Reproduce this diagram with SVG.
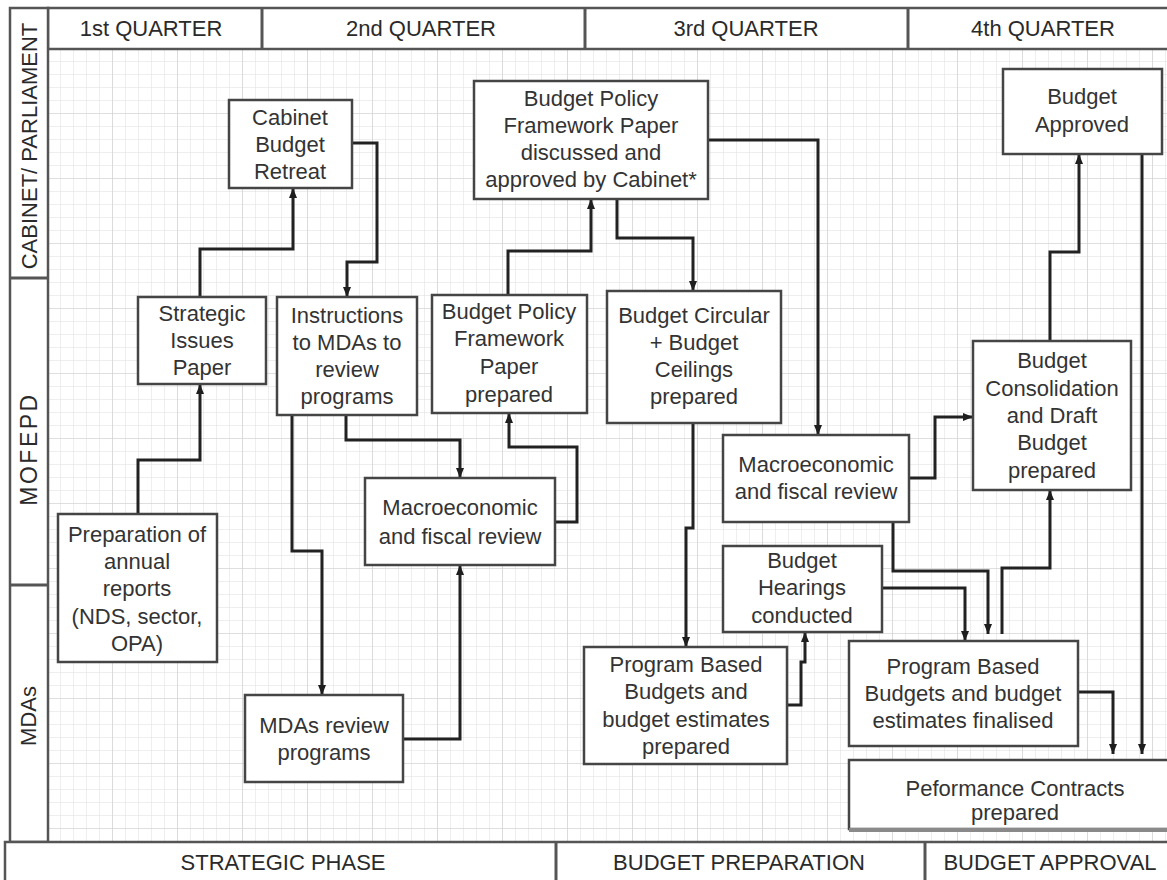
<svg xmlns="http://www.w3.org/2000/svg" width="1167" height="880" viewBox="0 0 1167 880">
<defs>
<pattern id="grid" x="48" y="49" width="13" height="13" patternUnits="userSpaceOnUse">
<path d="M13,0 V13 M0,13 H13" fill="none" stroke="#dcdcdc" stroke-width="1"/>
</pattern>
<pattern id="gridMajor" x="48" y="49" width="65" height="65" patternUnits="userSpaceOnUse">
<path d="M65,0 V65 M0,65 H65" fill="none" stroke="#cfcfcf" stroke-width="1.2"/>
</pattern>
<marker id="arr" viewBox="0 0 10 8" refX="10" refY="4" markerWidth="10" markerHeight="8" markerUnits="userSpaceOnUse" orient="auto">
<path d="M0,0 L10,4 L0,8 z" fill="#1e1e1e"/>
</marker>
</defs>
<style>
.box{fill:#fff;stroke:#454545;stroke-width:2.5}
.t{font-family:"Liberation Sans",Arial,sans-serif;font-size:22px;fill:#333;text-anchor:middle}
.hd{font-family:"Liberation Sans",Arial,sans-serif;font-size:22px;fill:#2a2a2a;text-anchor:middle}
.frame{fill:#fff;stroke:#555;stroke-width:2.5}
.div{stroke:#555;stroke-width:3}
.c{fill:none;stroke:#222;stroke-width:3;marker-end:url(#arr)}
.cn{fill:none;stroke:#222;stroke-width:3}
</style>
<rect x="0" y="0" width="1167" height="880" fill="#fff"/>
<!-- grid area -->
<rect x="48" y="49" width="1119" height="793" fill="url(#grid)"/>
<rect x="48" y="49" width="1119" height="793" fill="url(#gridMajor)"/>

<!-- header -->
<g id="header">
<rect class="frame" x="48" y="8" width="1125" height="41"/>
<line class="div" x1="262" y1="8" x2="262" y2="49"/>
<line class="div" x1="585" y1="8" x2="585" y2="49"/>
<line class="div" x1="908" y1="8" x2="908" y2="49"/>
<text class="hd" x="151" y="36">1st QUARTER</text>
<text class="hd" x="421" y="36">2nd QUARTER</text>
<text class="hd" x="746" y="36">3rd QUARTER</text>
<text class="hd" x="1043" y="36">4th QUARTER</text>
</g>

<!-- lanes -->
<g id="lanes">
<rect class="frame" x="10" y="8" width="38" height="834"/>
<line class="div" x1="10" y1="278" x2="48" y2="278"/>
<line class="div" x1="10" y1="585" x2="48" y2="585"/>
<text class="hd" transform="translate(37,146) rotate(-90)" x="0" y="0">CABINET/ PARLIAMENT</text>
<text class="hd" transform="translate(37,449) rotate(-90)" x="0" y="0" style="font-size:23px;letter-spacing:2.5px">MOFEPD</text>
<text class="hd" transform="translate(36,716) rotate(-90)" x="0" y="0">MDAs</text>
</g>

<!-- footer -->
<g id="footer">
<rect class="frame" x="5" y="842" width="1170" height="45"/>
<line class="div" x1="556" y1="842" x2="556" y2="880"/>
<line class="div" x1="925" y1="842" x2="925" y2="880"/>
<text class="hd" x="283" y="870">STRATEGIC PHASE</text>
<text class="hd" x="739" y="870">BUDGET PREPARATION</text>
<text class="hd" x="1050" y="870">BUDGET APPROVAL</text>
</g>

<!-- connectors -->
<g id="connectors">
<path class="c" d="M200,297 V249 H293 V188"/>
<path class="c" d="M352,143 H377 V262 H347 V297"/>
<path class="c" d="M138,514 V460 H200 V384"/>
<path class="c" d="M292,415 V551 H322 V695"/>
<path class="c" d="M346,415 V440 H460 V478"/>
<path class="c" d="M403,739 H460 V565"/>
<path class="c" d="M555,522 H577 V447 H509 V413"/>
<path class="c" d="M508,295 V251 H591 V199"/>
<path class="c" d="M617,199 V238 H693 V291"/>
<path class="c" d="M708,140 H818 V435"/>
<path class="c" d="M693,423 V528 H686 V647"/>
<path class="c" d="M909,478 H935 V417 H973"/>
<path class="c" d="M893,522 V571 H988 V634"/>
<path class="c" d="M882,588 H965 V641"/>
<path class="c" d="M1002,634 V568 H1050 V490"/>
<path class="c" d="M1050,341 V252 H1079 V154"/>
<path class="c" d="M1142,154 V754"/>
<path class="c" d="M1078,692 H1113 V754"/>
<path class="c" d="M787,705 H801 V662 H805 V632"/>
</g>

<!-- nodes -->
<g id="cabinet-retreat">
<rect class="box" x="229" y="100" width="123" height="88"/>
<text class="t" x="290" y="125">Cabinet</text>
<text class="t" x="290" y="152">Budget</text>
<text class="t" x="290" y="179">Retreat</text>
</g>
<g id="bpfp-cabinet">
<rect class="box" x="474" y="81" width="234" height="118"/>
<text class="t" x="591" y="106">Budget Policy</text>
<text class="t" x="591" y="133">Framework Paper</text>
<text class="t" x="591" y="160">discussed and</text>
<text class="t" x="591" y="187">approved by Cabinet*</text>
</g>
<g id="budget-approved">
<rect class="box" x="1003" y="69" width="159" height="85"/>
<text class="t" x="1082" y="104">Budget</text>
<text class="t" x="1082" y="132">Approved</text>
</g>
<g id="strategic-issues">
<rect class="box" x="138" y="297" width="128" height="87"/>
<text class="t" x="202" y="321">Strategic</text>
<text class="t" x="202" y="348">Issues</text>
<text class="t" x="202" y="375">Paper</text>
</g>
<g id="instructions">
<rect class="box" x="277" y="297" width="140" height="118"/>
<text class="t" x="347" y="323">Instructions</text>
<text class="t" x="347" y="350">to MDAs to</text>
<text class="t" x="347" y="377">review</text>
<text class="t" x="347" y="404">programs</text>
</g>
<g id="bpfp-prepared">
<rect class="box" x="432" y="295" width="155" height="118"/>
<text class="t" x="509" y="319">Budget Policy</text>
<text class="t" x="509" y="346">Framework</text>
<text class="t" x="509" y="374">Paper</text>
<text class="t" x="509" y="402">prepared</text>
</g>
<g id="budget-circular">
<rect class="box" x="607" y="291" width="174" height="132"/>
<text class="t" x="694" y="323">Budget Circular</text>
<text class="t" x="694" y="350">+ Budget</text>
<text class="t" x="694" y="377">Ceilings</text>
<text class="t" x="694" y="404">prepared</text>
</g>
<g id="macro-left">
<rect class="box" x="365" y="478" width="190" height="87"/>
<text class="t" x="460" y="515">Macroeconomic</text>
<text class="t" x="460" y="544">and fiscal review</text>
</g>
<g id="macro-right">
<rect class="box" x="723" y="435" width="186" height="87"/>
<text class="t" x="816" y="472">Macroeconomic</text>
<text class="t" x="816" y="499">and fiscal review</text>
</g>
<g id="consolidation">
<rect class="box" x="973" y="341" width="158" height="149"/>
<text class="t" x="1052" y="368">Budget</text>
<text class="t" x="1052" y="396">Consolidation</text>
<text class="t" x="1052" y="423">and Draft</text>
<text class="t" x="1052" y="450">Budget</text>
<text class="t" x="1052" y="478">prepared</text>
</g>
<g id="annual-reports">
<rect class="box" x="58" y="514" width="159" height="148"/>
<text class="t" x="137" y="542">Preparation of</text>
<text class="t" x="137" y="569">annual</text>
<text class="t" x="137" y="596">reports</text>
<text class="t" x="137" y="624">(NDS, sector,</text>
<text class="t" x="137" y="651">OPA)</text>
</g>
<g id="mdas-review">
<rect class="box" x="245" y="695" width="158" height="87"/>
<text class="t" x="324" y="733">MDAs review</text>
<text class="t" x="324" y="760">programs</text>
</g>
<g id="budget-hearings">
<rect class="box" x="723" y="546" width="159" height="86"/>
<text class="t" x="802" y="568">Budget</text>
<text class="t" x="802" y="595">Hearings</text>
<text class="t" x="802" y="623">conducted</text>
</g>
<g id="pbb-prepared">
<rect class="box" x="584" y="647" width="203" height="117"/>
<text class="t" x="686" y="672">Program Based</text>
<text class="t" x="686" y="699">Budgets and</text>
<text class="t" x="686" y="727">budget estimates</text>
<text class="t" x="686" y="754">prepared</text>
</g>
<g id="pbb-finalised">
<rect class="box" x="849" y="641" width="229" height="105"/>
<text class="t" x="963" y="674">Program Based</text>
<text class="t" x="963" y="701">Budgets and budget</text>
<text class="t" x="963" y="728">estimates finalised</text>
</g>
<g id="performance-contracts">
<rect class="box" x="849" y="760" width="325" height="69"/>
<line x1="849" y1="830" x2="1167" y2="830" stroke="#8a8a8a" stroke-width="4"/>
<text class="t" x="1015" y="796">Peformance Contracts</text>
<text class="t" x="1015" y="820">prepared</text>
</g>
</svg>
